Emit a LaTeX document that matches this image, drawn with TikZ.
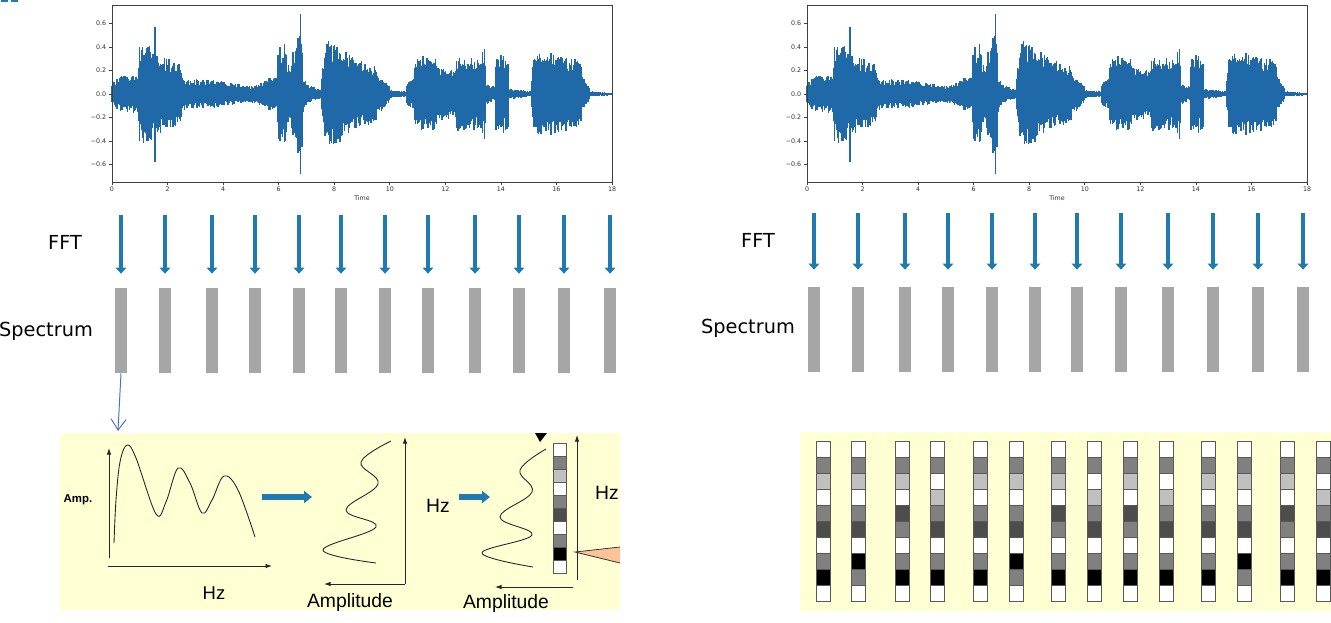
\documentclass[tikz,border=0pt]{standalone}
\usepackage{fontspec}
\setmainfont{DejaVu Sans}
\newfontfamily\arialfont{Liberation Sans}
\usetikzlibrary{arrows.meta, positioning}

\definecolor{wavec}{HTML}{1F69A9}
\definecolor{fftc}{HTML}{1F7AB0}
\definecolor{barc}{HTML}{A6A6A6}
\definecolor{panelc}{HTML}{FFFFD4}
\definecolor{linkc}{HTML}{4472C4}
\definecolor{wedgec}{HTML}{FBC497}
\definecolor{cW}{HTML}{FFFFFF}
\definecolor{cG}{HTML}{808080}
\definecolor{cL}{HTML}{C0C0C0}
\definecolor{cD}{HTML}{4D4D4D}
\definecolor{cB}{HTML}{000000}

% cell patterns of the spectrogram columns (top to bottom)
\def\pattA{cW,cG,cL,cW,cG,cD,cW,cG,cB,cW}
\def\pattB{cW,cG,cL,cW,cG,cD,cW,cB,cG,cW}
\def\pattC{cW,cG,cL,cW,cD,cG,cW,cG,cB,cW}
\def\pattD{cW,cG,cW,cL,cG,cD,cW,cG,cB,cW}

\tikzset{
  wave/.style={wavec, line width=0.75pt},
  axframe/.style={draw=black!75, line width=0.45pt},
  ticklbl/.style={font=\fontsize{3.6}{4}\selectfont, text=black!80, inner sep=0.5pt},
  fftarrow/.style={fftc, line width=0.09cm, -{Triangle[width=0.21cm,length=0.12cm]}},
  specbar/.style={fill=barc, minimum width=0.24cm, minimum height=1.7cm, inner sep=0pt},
  rowlbl/.style={font=\fontsize{11}{13}\selectfont, inner sep=0pt},
  panel/.style={fill=panelc, draw=none},
  curve/.style={black!85, line width=0.5pt},
  axarrow/.style={black!85, line width=0.5pt, -{Latex[length=0.13cm,width=0.09cm]}},
  bigarrow/.style={fftc, line width=0.12cm, -{Triangle[width=0.24cm,length=0.16cm]}},
  axlbl/.style={font=\arialfont\fontsize{11}{13}\selectfont, inner sep=0pt},
  cellbox/.style={draw=black!65, line width=0.45pt},
  linkarrow/.style={linkc, line width=0.55pt, -{Straight Barb[length=0.22cm,width=0.3cm]}},
}

% one waveform plot, #1 = x of the axis origin, #2 = name prefix
\newcommand\waveplot[2]{%
\begin{scope}[shift={(#1,94)}, xscale=27.78, yscale=-117.5]
  \pgfmathsetseed{2718}
  \foreach \tma/\tmb/\ampa/\ampb in {0/0.35/0.08/0.14, 0.35/0.95/0.14/0.14,
      0.95/1.1/0.25/0.40, 1.1/1.6/0.38/0.33, 1.6/2.5/0.30/0.22,
      2.5/2.7/0.15/0.11, 2.7/4.0/0.11/0.10, 4.0/5.0/0.09/0.06,
      5.0/5.6/0.06/0.11, 5.6/5.95/0.12/0.13, 5.95/6.3/0.32/0.40,
      6.3/6.45/0.24/0.24, 6.45/6.85/0.30/0.48, 6.85/7.0/0.15/0.10,
      7.0/7.55/0.08/0.03, 7.55/7.7/0.15/0.38, 7.7/8.3/0.40/0.35,
      8.3/9.5/0.32/0.20, 9.5/10.0/0.18/0.06, 10.0/10.6/0.03/0.02,
      10.6/10.9/0.08/0.12, 10.9/11.7/0.26/0.28, 11.7/12.4/0.20/0.18,
      12.4/13.1/0.28/0.28, 13.1/13.45/0.24/0.34, 13.45/13.8/0.08/0.05,
      13.8/14.3/0.30/0.28, 14.3/15.1/0.04/0.02, 15.1/15.2/0.10/0.30,
      15.2/16.9/0.32/0.26, 16.9/17.2/0.15/0.05, 17.2/18/0.02/0.01}{
    \pgfmathsetmacro\tmn{\tma+0.03}
    \foreach \tm in {\tma,\tmn,...,\tmb}{
      \pgfmathsetmacro\wenv{1.15*(\ampa+(\ampb-\ampa)*(\tm-\tma)/(\tmb-\tma))}
      \pgfmathsetmacro\wup{\wenv*(0.62+0.38*rnd)}
      \pgfmathsetmacro\wdn{\wenv*(0.62+0.38*rnd)}
      \draw[wave] (\tm,\wup) -- (\tm,-\wdn);
    }
  }
  % single peaks
  \foreach \tm/\wup/\wdn in {1.55/0.57/0.58, 1.0/0.40/0.40, 1.3/0.40/0.40,
      6.05/0.40/0.40, 6.7/0.48/0.50, 6.78/0.68/0.68, 7.9/0.42/0.42,
      8.1/0.40/0.38, 11.2/0.32/0.30, 12.5/0.31/0.30, 13.4/0.38/0.38,
      14.0/0.33/0.28, 15.8/0.35/0.35}{
    \draw[wave] (\tm,\wup) -- (\tm,-\wdn);
  }
  % frame, ticks, labels
  \draw[axframe] (0,-0.75) rectangle (18,0.75);
  \foreach \x in {0,2,...,18}{
    \draw[axframe] (\x,-0.75) -- (\x,-0.775);
    \node[ticklbl, below=2.2pt] (#2x\x) at (\x,-0.75) {\x};
  }
  \foreach \y/\ytxt [count=\k] in {0.6/0.6, 0.4/0.4, 0.2/0.2, 0/0.0,
      -0.2/−0.2, -0.4/−0.4, -0.6/−0.6}{
    \draw[axframe] (0,\y) -- (-0.1,\y);
    \node[ticklbl, left=2.6pt] (#2y\k) at (0,\y) {\ytxt};
  }
  \node[ticklbl, below=6.8pt] (#2time) at (9,-0.75) {Time};
\end{scope}}

\begin{document}
\begin{tikzpicture}[x=0.02cm, y=-0.02cm]
  \useasboundingbox (0,0) rectangle (1331,622);
  \fill[fftc] (1,0) rectangle (8,2);
  \fill[fftc] (11,0) rectangle (18,2);

  % waveforms
  \waveplot{112}{L}
  \waveplot{807}{R}

  % FFT and spectrum rows
  \node[rowlbl] (fftL) at (65,242) {FFT};
  \node[rowlbl] (specL) at (46,331) {Spectrum};
  \node[rowlbl] (fftR) at (758,240) {FFT};
  \node[rowlbl] (specR) at (748,328) {Spectrum};
  \foreach \x [count=\i] in {121,165,212,255,299,341,385,428,475,519,564,610}{
    \coordinate (lf\i) at (\x,215);
    \node[specbar] (lb\i) at (\x,330.5) {};
    \draw[fftarrow] (lf\i) -- ([yshift=0.28cm]lb\i.north);
  }
  \foreach \x [count=\i] in {814,858,905,948,992,1035,1077,1121,1168,1213,1258,1303}{
    \coordinate (rf\i) at (\x,213);
    \node[specbar] (rb\i) at (\x,329.5) {};
    \draw[fftarrow] (rf\i) -- ([yshift=0.34cm]rb\i.north);
  }

  % left panel: one spectrum in detail
  \node[panel, minimum width=11.2cm, minimum height=3.54cm, inner sep=0pt, anchor=north west] (panL) at (60,433) {};
  \coordinate (panLtop) at (118,431);
  \draw[linkarrow] (lb1.south) -- (panLtop);

  \draw[axarrow] (109,558) -- (109,448);
  \draw[axarrow] (108,566) -- (272,566);
  \draw[curve] plot[smooth, tension=0.6] coordinates {(114,543) (116,500) (120,462)
    (127,445) (136,458) (156,514) (166,502) (178,468) (190,483) (202,513)
    (212,500) (224,476) (238,490) (255,537)};
  \node[font=\arialfont\bfseries\fontsize{6.5}{8}\selectfont, inner sep=0pt] (ampT) at (78,500) {Amp.};
  \node[axlbl, font=\arialfont\fontsize{10.5}{12}\selectfont] (hzA) at (214,593) {Hz};

  \coordinate (ba1) at (262,497);
  \coordinate (ba2) at (312,497);
  \draw[bigarrow] (ba1) -- (ba2);

  \draw[axarrow] (405,584) -- (405,437);
  \draw[axarrow] (405,584) -- (324,584);
  \draw[curve] plot[smooth, tension=0.65] coordinates {(391,441) (361,462) (378,484)
    (346,510) (376,527) (323,550) (376,563)};
  \node[axlbl] (ampA) at (350,602) {Amplitude};

  \node[axlbl] (hzB) at (438,506) {Hz};
  \coordinate (bb1) at (459,497);
  \coordinate (bb2) at (490,497);
  \draw[bigarrow] (bb1) -- (bb2);

  \fill[black] (535,433) -- (547,433) -- (540,442) -- cycle;
  \draw[curve] plot[smooth, tension=0.65] coordinates {(546,449) (520,470) (532,492)
    (500,517) (532,535) (482,553) (533,567)};
  \foreach \col [count=\r] in \pattA{
    \draw[cellbox, fill=\col] (553,{430+13*\r}) rectangle ++(13,13);
  }
  \draw[axarrow] (577,580) -- (577,435);
  \node[axlbl] (hzC) at (607,493) {Hz};
  \draw[axarrow] (573,587) -- (495,587);
  \node[axlbl] (ampB) at (506,603) {Amplitude};
  \draw[black!80, line width=0.45pt, fill=wedgec] (620,547) -- (575,552) -- (620,563);

  % right panel: spectrogram columns
  \node[panel, minimum width=10.62cm, minimum height=3.58cm, inner sep=0pt, anchor=north west] (panR) at (800,432) {};
  \foreach \x/\p in {816/A, 851/B, 895/C, 930/D, 973/A, 1009/B, 1051/C,
      1087/D, 1123/C, 1159/D, 1201/A, 1237/B, 1280/C, 1316/D}{
    \edef\plist{\csname patt\p\endcsname}
    \foreach \col [count=\r] in \plist{
      \draw[cellbox, fill=\col] (\x,{425+16*\r}) rectangle ++(14,16);
    }
  }
\end{tikzpicture}
\end{document}
